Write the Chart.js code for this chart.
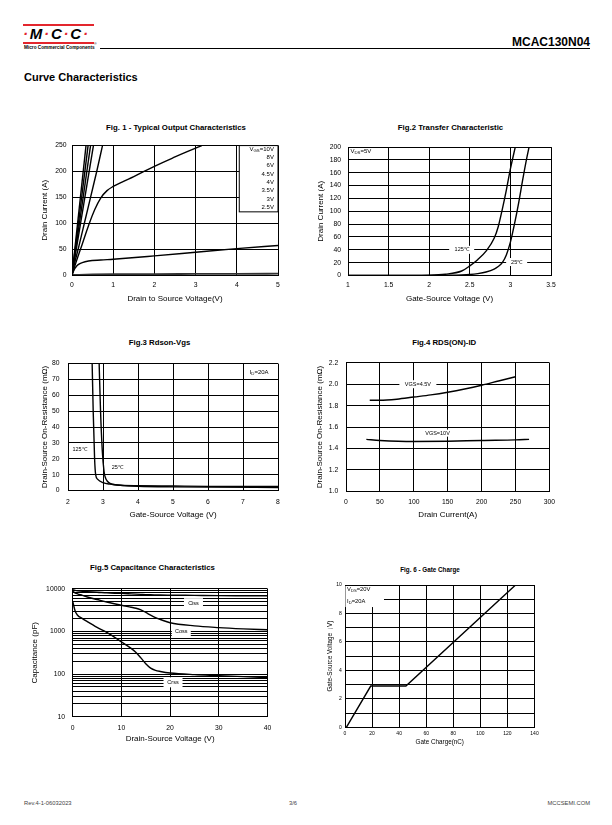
<!DOCTYPE html>
<html><head><meta charset="utf-8">
<script src="https://cdn.jsdelivr.net/npm/chart.js@4"></script>
<style>
body{margin:0;width:612px;height:825px;background:#fff;position:relative;overflow:hidden;font-family:"Liberation Sans",Arial,sans-serif;color:#000}
.a{position:absolute;white-space:nowrap}
.c{transform:translate(-50%,-50%)}
canvas{position:absolute}
.r{color:#e3262d}
</style></head><body>

<div class="a" style="left:23px;top:24px;width:71px;height:2px;background:#e3262d"></div>
<div class="a" style="left:23px;top:26px;font-size:15px;line-height:16px;font-weight:bold;font-style:italic;letter-spacing:1.8px"><span class="r">·</span>M<span class="r">·</span>C<span class="r">·</span>C<span class="r">·</span></div>
<div class="a" style="left:23px;top:42px;width:71px;height:1.5px;background:#e3262d"></div>
<div class="a" style="left:24px;top:45px;font-size:4.7px;line-height:5px;font-weight:bold">Micro Commercial Components</div>
<div class="a" style="left:94px;top:42px;font-size:3.5px;line-height:4px">®</div>
<div class="a" style="left:100px;top:48px;width:490px;height:1px;background:#000"></div>
<div class="a" style="right:22px;top:36px;font-size:12px;line-height:12px;font-weight:bold">MCAC130N04</div>
<div class="a" style="left:24px;top:71px;font-size:11px;line-height:13px;font-weight:bold">Curve Characteristics</div>

<div class="a c" style="left:176px;top:126.7px;font-size:7.8px;font-weight:bold">Fig. 1 - Typical Output Characteristics</div>
<div class="a c" style="left:450.5px;top:126.7px;font-size:7.8px;font-weight:bold">Fig.2 Transfer Characteristic</div>
<div class="a c" style="left:159.5px;top:342.3px;font-size:7.8px;font-weight:bold">Fig.3 Rdson-Vgs</div>
<div class="a c" style="left:444.2px;top:342.3px;font-size:7.8px;font-weight:bold">Fig.4 RDS(ON)-ID</div>
<div class="a c" style="left:152.5px;top:567.3px;font-size:7.8px;font-weight:bold">Fig.5 Capacitance Characteristics</div>
<div class="a c" style="left:430px;top:569px;font-size:6.3px;font-weight:bold">Fig. 6 - Gate Charge</div>

<div class="a" style="left:24px;top:800px;font-size:5.8px;color:#444">Rev.4-1-06032023</div>
<div class="a" style="left:289px;top:800px;font-size:5.8px;color:#444">3/6</div>
<div class="a" style="right:22px;top:800px;font-size:5.8px;color:#444">MCCSEMI.COM</div>

<script>
// ---------------- DATA ----------------
// Fig.1 Typical Output Characteristics (Vds in V, Id in A)
const fig1Legend = ['8V', '6V', '4.5V', '4V', '3.5V', '3V', '2.5V'];
const vgs10V_vds = [0, 0.34];  const vgs10V_id = [0, 250];
const vgs8V_vds = [0, 0.39];   const vgs8V_id = [0, 250];
const vgs6V_vds = [0, 0.45];   const vgs6V_id = [0, 250];
const vgs45V_vds = [0, 0.52];  const vgs45V_id = [0, 250];
const vgs4V_vds = [0, 0.07, 0.15, 0.3, 0.45, 0.6, 0.74];
const vgs4V_id  = [0, 25, 50, 100, 150, 200, 250];
const vgs35V_vds = [0, 0.1, 0.25, 0.4, 0.55, 0.7, 0.85, 1.0, 1.25, 1.5, 2.0, 2.5, 3.0, 3.15];
const vgs35V_id  = [0, 25, 60, 95, 126, 149, 163, 171, 181, 190, 210, 228, 245, 250];
const vgs3V_vds = [0, 0.05, 0.1, 0.15, 0.25, 0.4, 0.7, 1, 2, 3, 4, 5];
const vgs3V_id  = [0, 10, 16, 20, 24, 27, 29, 30.5, 37, 44, 51, 57];
const vgs25V_vds = [0, 0.5, 1, 2, 3, 4, 5];
const vgs25V_id  = [0, 1, 1.5, 1.8, 2, 2.2, 2.5];

// Fig.2 Transfer Characteristic (Vgs in V, Id in A)
const t125_vgs = [1, 1.5, 2, 2.2, 2.4, 2.5, 2.6, 2.7, 2.8, 2.85, 2.9, 2.95, 3.0, 3.06];
const t125_id  = [0, 0, 0.5, 2, 7, 15, 25, 38, 58, 76, 103, 133, 166, 200];
const t25_vgs = [1, 1.5, 2, 2.2, 2.4, 2.5, 2.6, 2.7, 2.8, 2.85, 2.9, 2.95, 3.0, 3.05, 3.1, 3.15, 3.2, 3.23];
const t25_id  = [0, 0, 0, 0.3, 0.8, 1.5, 3, 5.5, 10, 14, 20, 32, 52, 80, 112, 148, 182, 200];

// Fig.3 Rdson-Vgs (Vgs in V, Rdson in mOhm)
const r125_vgs = [2.69, 2.72, 2.76, 2.79, 2.85, 3.0, 3.2, 3.5, 4, 5, 6, 8];
const r125_rds = [80, 50, 20, 10, 7, 5, 4, 3.3, 3, 2.8, 2.6, 2.5];
const r25_vgs = [2.89, 2.93, 2.98, 3.03, 3.07, 3.12, 3.2, 3.4, 3.7, 4, 5, 6, 8];
const r25_rds = [80, 50, 25, 12, 8, 6, 4.5, 3.5, 3, 2.7, 2.3, 2.1, 1.9];

// Fig.4 RDS(ON)-ID (Id in A, Rds in mOhm)
const vgs45_id  = [35, 50, 75, 100, 125, 150, 175, 200, 225, 250];
const vgs45_rds = [1.85, 1.85, 1.86, 1.88, 1.90, 1.925, 1.955, 1.99, 2.03, 2.07];
const vgs10_id  = [30, 50, 100, 150, 200, 250, 270];
const vgs10_rds = [1.485, 1.475, 1.465, 1.468, 1.475, 1.48, 1.485];

// Fig.5 Capacitance (Vds in V, C in pF)
const cap_vds  = [0, 0.5, 1, 2, 3, 5, 7, 10, 12, 13, 14, 15, 16, 17, 18, 20, 25, 30, 35, 40];
const ciss_pf  = [9500, 9200, 9000, 8700, 8500, 8300, 8000, 7800, 7600, 7500, 7400, 7300, 7250, 7200, 7150, 7100, 7000, 6900, 6850, 6800];
const coss_pf  = [8700, 8000, 7600, 7000, 6400, 5600, 4900, 4100, 3700, 3500, 3200, 2800, 2400, 2100, 1900, 1600, 1350, 1230, 1150, 1090];
const crss_pf  = [5100, 3000, 2400, 2000, 1700, 1250, 950, 570, 400, 320, 240, 175, 138, 122, 115, 106, 97, 92, 87, 82];
const capTickLabels = [10, 100, 1000, 10000];

// Fig.6 Gate Charge (Qg in nC, Vgs in V)
const qg_nc  = [1, 19, 45, 126];
const qg_vgs = [0, 2.9, 2.9, 10];

// ---------------- HELPERS ----------------
const FAM = '"Liberation Sans", Arial, sans-serif';
const pts = (xs, ys) => xs.map((x, i) => ({x, y: ys[i]}));

const notesPlugin = {
  id: 'notes',
  afterDatasetsDraw(chart, args, opts) {
    const ctx = chart.ctx, xs = chart.scales.x, ys = chart.scales.y;
    ctx.save();
    (opts.boxes || []).forEach(b => {
      const x1 = xs.getPixelForValue(b.x1), x2 = xs.getPixelForValue(b.x2);
      const y1 = ys.getPixelForValue(b.y1), y2 = ys.getPixelForValue(b.y2);
      const L = Math.min(x1, x2), T = Math.min(y1, y2), W = Math.abs(x2 - x1), H = Math.abs(y2 - y1);
      ctx.fillStyle = '#fff';
      ctx.fillRect(L, T, W, H);
      if (b.border) { ctx.strokeStyle = '#000'; ctx.lineWidth = 1; ctx.strokeRect(L, T, W, H); }
    });
    (opts.items || []).forEach(it => {
      const size = it.size || 6;
      const widths = it.parts.map(p => { ctx.font = (p[1] ? size * 0.72 : size) + 'px ' + FAM; return ctx.measureText(p[0]).width; });
      const w = widths.reduce((a, b) => a + b, 0);
      const px = xs.getPixelForValue(it.x), py = ys.getPixelForValue(it.y);
      let sx = it.align === 'left' ? px : it.align === 'right' ? px - w : px - w / 2;
      if (it.bg) {
        const pw = it.bgW || (w + 6), ph = it.bgH || (size + 4);
        ctx.fillStyle = '#fff';
        ctx.fillRect(sx + w / 2 - pw / 2, py - ph / 2, pw, ph);
      }
      ctx.fillStyle = '#000'; ctx.textBaseline = 'middle'; ctx.textAlign = 'left';
      it.parts.forEach((p, i) => {
        ctx.font = (p[1] ? size * 0.72 : size) + 'px ' + FAM;
        ctx.fillText(p[0], sx, py + (p[1] ? size * 0.28 : 0));
        sx += widths[i];
      });
    });
    ctx.restore();
  }
};

function axis(g, isX, o) {
  const tl = g.title * 1.2, kl = g.tick * 1.2;
  const base = {
    type: 'linear',
    grid: {color: '#000', lineWidth: 1, drawTicks: false},
    border: {color: '#000', width: 1},
    ticks: Object.assign({
      color: '#000', font: {family: FAM, size: g.tick}, autoSkip: false, maxRotation: 0,
      padding: isX ? g.xTickY - g.B - kl / 2 : g.L - g.yTickR
    }, o.ticks || {}),
    title: {
      display: true, text: o.title, color: '#000', font: {family: FAM, size: g.title},
      padding: isX ? {top: 0, bottom: g._bottom - g.xTitleY - tl / 2} : {top: g.yTitleX - g._left - tl / 2, bottom: 0}
    },
    afterFit: isX ? s => { s.height = g._bottom - g.B; } : s => { s.width = g.L - g._left; }
  };
  const r = Object.assign({}, o, base);
  r.ticks = base.ticks; r.title = base.title;
  if (o.type) r.type = o.type;
  if (o.afterBuildTicks) r.afterBuildTicks = o.afterBuildTicks;
  return r;
}

function makeChart(g, datasets, xo, yo, notes) {
  const tl = g.title * 1.2;
  g._left = Math.floor(g.yTitleX - tl / 2 - 1);
  g._top = Math.floor(g.T - 8);
  g._right = Math.ceil(g.R + 12);
  g._bottom = Math.ceil(g.xTitleY + tl / 2 + 1);
  const cv = document.createElement('canvas');
  cv.width = g._right - g._left; cv.height = g._bottom - g._top;
  cv.style.left = g._left + 'px'; cv.style.top = g._top + 'px';
  cv.style.width = cv.width + 'px'; cv.style.height = cv.height + 'px';
  document.body.appendChild(cv);
  new Chart(cv, {
    type: 'scatter',
    data: {datasets: datasets.map(d => Object.assign({
      showLine: true, pointRadius: 0, borderColor: '#000', borderWidth: 1.4, fill: false,
      cubicInterpolationMode: 'monotone'
    }, d))},
    options: {
      responsive: false, animation: false, devicePixelRatio: 1,
      layout: {padding: {top: g.T - g._top, right: g._right - g.R, left: 0, bottom: 0}},
      plugins: {legend: {display: false}, tooltip: {enabled: false}, notes: notes || {}},
      scales: {x: axis(g, true, xo), y: axis(g, false, yo)}
    },
    plugins: [notesPlugin]
  });
}

// ---------------- FIG 1 ----------------
makeChart(
  {L: 72, R: 278, T: 144, B: 275, yTitleX: 45, yTickR: 66.5, xTickY: 285.5, xTitleY: 298.5, tick: 6.8, title: 8},
  [
    {label: 'VGS=10V', data: pts(vgs10V_vds, vgs10V_id), cubicInterpolationMode: 'default', tension: 0},
    {label: '8V', data: pts(vgs8V_vds, vgs8V_id), cubicInterpolationMode: 'default', tension: 0},
    {label: '6V', data: pts(vgs6V_vds, vgs6V_id), cubicInterpolationMode: 'default', tension: 0},
    {label: '4.5V', data: pts(vgs45V_vds, vgs45V_id), cubicInterpolationMode: 'default', tension: 0},
    {label: '4V', data: pts(vgs4V_vds, vgs4V_id)},
    {label: '3.5V', data: pts(vgs35V_vds, vgs35V_id), cubicInterpolationMode: 'default', tension: 0.4},
    {label: '3V', data: pts(vgs3V_vds, vgs3V_id)},
    {label: '2.5V', data: pts(vgs25V_vds, vgs25V_id), borderColor: '#333', borderWidth: 1.8}
  ],
  {min: 0, max: 5, ticks: {stepSize: 1}, title: 'Drain to Source Voltage(V)'},
  {min: 0, max: 250, ticks: {stepSize: 50}, title: 'Drain Current (A)'},
  {
    boxes: [{x1: 4.06, x2: 5, y1: 122, y2: 250, border: true}],
    items: [{x: 4.9, y: 243, align: 'right', parts: [['V'], ['GS', 1], ['=10V']]}]
      .concat(fig1Legend.map((t, i) => ({x: 4.9, y: 227 - i * 16, align: 'right', parts: [[t]]})))
  }
);

// ---------------- FIG 2 ----------------
makeChart(
  {L: 348, R: 551, T: 144, B: 275.5, yTitleX: 320.5, yTickR: 341, xTickY: 285.5, xTitleY: 298.5, tick: 6.8, title: 8},
  [
    {label: '125℃', data: pts(t125_vgs, t125_id)},
    {label: '25℃', data: pts(t25_vgs, t25_id)}
  ],
  {min: 1, max: 3.5, ticks: {stepSize: 0.5, callback: v => String(Math.round(v * 10) / 10)}, title: 'Gate-Source Voltage (V)'},
  {min: 0, max: 200, ticks: {stepSize: 20}, title: 'Drain Current (A)'},
  {
    items: [
      {x: 1.03, y: 193, align: 'left', parts: [['V'], ['DS', 1], ['=5V']]},
      {x: 2.4, y: 40, bg: true, bgW: 25, bgH: 8, parts: [['125℃']], size: 5.5},
      {x: 3.077, y: 21, bg: true, bgW: 21, bgH: 8, parts: [['25℃']], size: 5.5}
    ]
  }
);

// ---------------- FIG 3 ----------------
makeChart(
  {L: 68, R: 278, T: 359, B: 490.5, yTitleX: 45, yTickR: 59.5, xTickY: 502.3, xTitleY: 514.3, tick: 6.8, title: 8},
  [
    {label: '125℃', data: pts(r125_vgs, r125_rds)},
    {label: '25℃', data: pts(r25_vgs, r25_rds)}
  ],
  {min: 2, max: 8, ticks: {stepSize: 1}, title: 'Gate-Source Voltage (V)'},
  {min: 0, max: 80, ticks: {stepSize: 10}, title: 'Drain-Source On-Resistance (mΩ)'},
  {
    items: [
      {x: 7.19, y: 74.7, align: 'left', parts: [['I'], ['D', 1], ['=20A']]},
      {x: 2.33, y: 26, bg: true, bgW: 20, bgH: 8, parts: [['125℃']], size: 5.5},
      {x: 3.41, y: 14.2, bg: true, bgW: 18, bgH: 12, parts: [['25℃']], size: 5.5}
    ]
  }
);

// ---------------- FIG 4 ----------------
makeChart(
  {L: 346, R: 550, T: 359.5, B: 491.3, yTitleX: 319.3, yTickR: 338.3, xTickY: 502.3, xTitleY: 514.3, tick: 6.8, title: 8},
  [
    {label: 'VGS=4.5V', data: pts(vgs45_id, vgs45_rds)},
    {label: 'VGS=10V', data: pts(vgs10_id, vgs10_rds)}
  ],
  {min: 0, max: 300, ticks: {stepSize: 50}, title: 'Drain Current(A)'},
  {min: 1, max: 2.2, ticks: {stepSize: 0.2, callback: v => v.toFixed(1)}, title: 'Drain-Source On-Resistance (mΩ)'},
  {
    items: [
      {x: 106, y: 2.0, bg: true, bgW: 37, bgH: 8, parts: [['VGS=4.5V']], size: 5.5},
      {x: 135, y: 1.543, bg: true, bgW: 30, bgH: 7, parts: [['VGS=10V']], size: 5.5}
    ]
  }
);

// ---------------- FIG 5 ----------------
const capGrid = [];
capTickLabels.slice(0, 3).forEach(d => { for (let m = 1; m < 10; m++) capGrid.push(d * m); });
capGrid.push(capTickLabels[3]);
makeChart(
  {L: 72.7, R: 267.5, T: 585.3, B: 716.7, yTitleX: 35, yTickR: 65, xTickY: 727.7, xTitleY: 738.3, tick: 6.8, title: 8},
  [
    {label: 'Ciss', data: pts(cap_vds, ciss_pf)},
    {label: 'Coss', data: pts(cap_vds, coss_pf)},
    {label: 'Crss', data: pts(cap_vds, crss_pf)}
  ],
  {min: 0, max: 40, ticks: {stepSize: 10}, title: 'Drain-Source Voltage (V)'},
  {type: 'logarithmic', min: 10, max: 10000, title: 'Capacitance (pF)',
   ticks: {callback: v => capTickLabels.includes(v) ? String(v) : ''},
   afterBuildTicks: s => { s.ticks = capGrid.map(v => ({value: v})); }},
  {
    items: [
      {x: 24.8, y: 4600, bg: true, bgW: 19, bgH: 10, parts: [['Ciss']], size: 5.5},
      {x: 22.3, y: 1000, bg: true, bgW: 19, bgH: 10, parts: [['Coss']], size: 5.5},
      {x: 20.6, y: 64, bg: true, bgW: 19, bgH: 10, parts: [['Crss']], size: 5.5}
    ]
  }
);

// ---------------- FIG 6 ----------------
makeChart(
  {L: 345, R: 534.5, T: 585, B: 727.3, yTitleX: 330.7, yTickR: 341.7, xTickY: 733.3, xTitleY: 742.3, tick: 5, title: 6.3},
  [
    {label: 'Vgs', data: pts(qg_nc, qg_vgs), cubicInterpolationMode: 'default', tension: 0}
  ],
  {min: 0, max: 140, ticks: {stepSize: 20}, title: 'Gate Charge(nC)'},
  {min: 0, max: 10, ticks: {stepSize: 1, callback: v => v % 2 === 0 ? String(v) : ''}, title: 'Gate-Source Voltage（V)'},
  {
    boxes: [{x1: 0.3, x2: 28.8, y1: 8.45, y2: 9.93}],
    items: [
      {x: 1.5, y: 9.7, align: 'left', parts: [['V'], ['DS', 1], ['=20V']], size: 5.8},
      {x: 1.5, y: 8.85, align: 'left', parts: [['I'], ['D', 1], ['=20A']], size: 5.8}
    ]
  }
);
</script>
</body></html>
